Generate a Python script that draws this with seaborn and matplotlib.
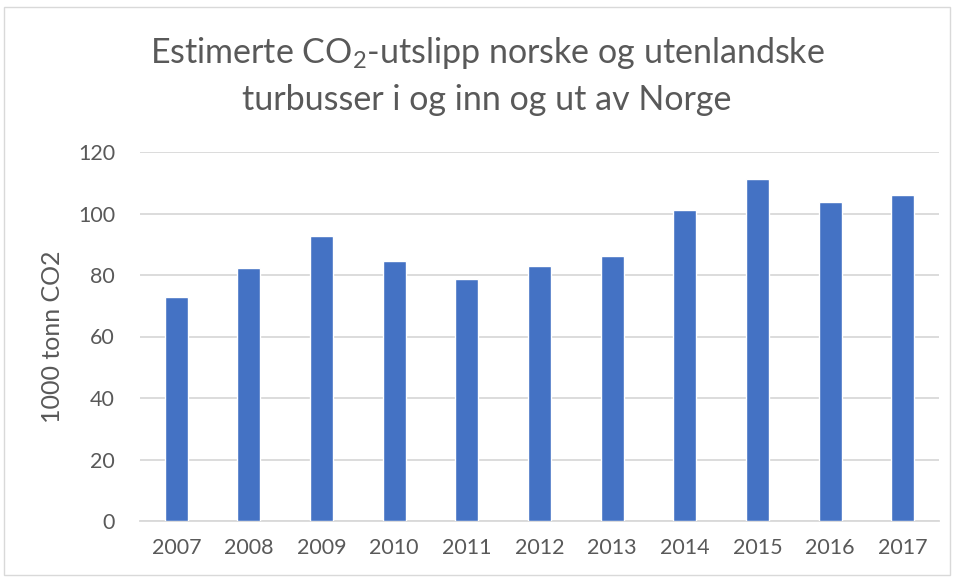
import matplotlib
matplotlib.use("Agg")
import matplotlib.pyplot as plt
import seaborn as sns
import pandas as pd
from matplotlib.patches import Rectangle

years = ['2007', '2008', '2009', '2010', '2011', '2012', '2013', '2014', '2015', '2016', '2017']
utslipp = [72.8, 82.3, 92.7, 84.7, 78.8, 82.9, 86.3, 101.2, 111.3, 103.9, 105.9]

df = pd.DataFrame({'År': years, 'Utslipp': utslipp})

sns.set_style('white')
plt.rcParams['font.family'] = ['Lato', 'DejaVu Sans']
plt.rcParams['mathtext.default'] = 'regular'

fig = plt.figure(figsize=(9.54, 5.77), dpi=100)
ax = fig.add_axes([140 / 954, 1 - 521 / 577, 799 / 954, 369 / 577])

sns.barplot(x='År', y='Utslipp', data=df, color='#4472C4', width=0.316,
            saturation=1, ax=ax, zorder=3)

ax.set_xlim(-0.5, 10.5)
ax.set_ylim(0, 120)
ax.set_yticks(range(0, 121, 20))
ax.yaxis.grid(True, color='#d9d9d9', linewidth=1.3, zorder=0)
ax.set_axisbelow(True)
for s in ['top', 'right', 'left']:
    ax.spines[s].set_visible(False)
ax.spines['bottom'].set_color('#d9d9d9')
ax.spines['bottom'].set_linewidth(1.3)
ax.tick_params(axis='both', length=0, labelsize=15.5, colors='#595959', pad=12)
ax.tick_params(axis='y', pad=18)
ax.set_xlabel('')
ax.set_ylabel('1000 tonn CO2', fontsize=18, color='#595959', labelpad=10)

# tittel i to linjer, som i Excel-figuren
fig.text(487 / 954, 1 - 53 / 577, 'Estimerte CO$_2$-utslipp norske og utenlandske',
         ha='center', va='center', fontsize=24.5, color='#595959')
fig.text(487 / 954, 1 - 100 / 577, 'turbusser i og inn og ut av Norge',
         ha='center', va='center', fontsize=24.5, color='#595959')

fig.patches.append(Rectangle((4 / 954, 1 - 575 / 577), 946 / 954, 568 / 577,
                             transform=fig.transFigure, fill=False,
                             edgecolor='#d9d9d9', linewidth=1))

plt.savefig('out.png', dpi=100)
plt.close()
